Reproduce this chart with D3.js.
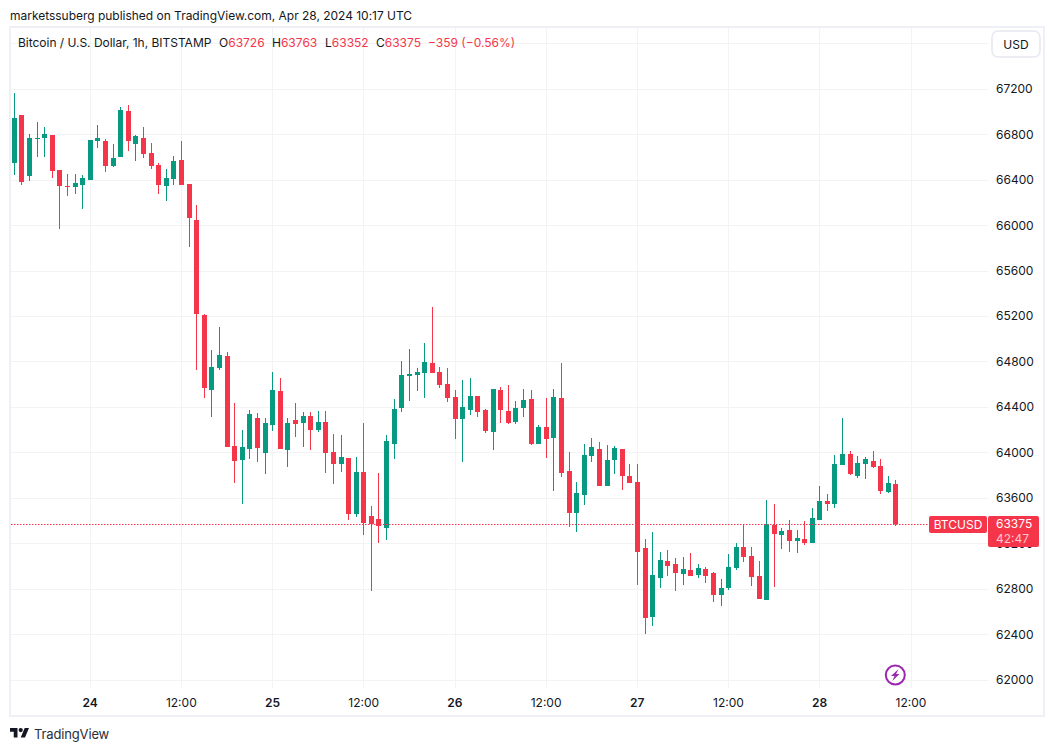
<!DOCTYPE html>
<html>
<head>
<meta charset="utf-8">
<script src="https://cdn.jsdelivr.net/npm/d3@7/dist/d3.min.js"></script>
<style>
html,body{margin:0;padding:0;background:#fff;}
svg{display:block;}
text{font-family:Inter,"Liberation Sans",sans-serif;}
</style>
</head>
<body>
<svg id="c" width="1054" height="751"></svg>
<script>
const firstHour = -10; // hours relative to Apr 24 00:00 UTC
const opens = [66552,66974,66437,66763,66772,66798,66490,66349,66340,66358,
66402,66745,66745,66525,66604,67009,66719,66772,66640,66534,
66349,66411,66578,66367,66050,65214,64554,64748,64853,64061,
63938,64035,64308,63999,64246,64545,64026,64290,64264,64325,
64202,64273,64009,63903,63956,63463,63833,63445,63419,63340,
64079,64396,64677,64686,64704,64792,64712,64607,64493,64299,
64378,64501,64378,64185,64554,64369,64273,64396,64475,64079,
64229,64132,64484,63841,63472,63630,63973,64035,63709,63938,
64035,63797,63745,63164,62557,62900,63049,63023,62935,62970,
62926,62979,62944,62750,62812,62988,63173,63093,62917,62706,
63366,63278,63322,63225,63243,63208,63410,63577,63551,63894,
63991,63797,63903,63929,63885,63656,63726];
const highs = [67168,66974,66807,66912,66868,66798,66490,66455,66455,66446,
66754,66886,66763,66719,67044,67062,66798,66868,66728,66552,
66499,66613,66745,66367,66182,65223,64906,65109,64889,64440,
64202,64378,64352,64308,64713,64660,64308,64440,64361,64361,
64369,64369,64167,64158,63956,63965,64264,63533,63824,64158,
64475,64809,64915,64748,64968,65284,64756,64748,64554,64642,
64660,64501,64387,64563,64581,64598,64457,64563,64554,64246,
64484,64563,64792,64009,63745,64079,64132,64096,64070,64061,
64035,63903,63903,63243,63305,63129,63146,63076,63085,63120,
63023,62997,62953,62891,63111,63208,63366,63173,63049,63586,
63551,63340,63410,63322,63401,63516,63709,63639,63982,64308,
64017,63973,63964,64017,63947,63797,63763];
const lows = [66446,66358,66393,66604,66604,66420,65971,66261,66279,66147,
66402,66684,66472,66516,66604,66657,66569,66596,66499,66279,
66217,66358,66358,65812,64730,64484,64317,64730,64053,63736,
63551,63947,63921,63815,64193,64035,63877,64141,64053,64026,
64185,63824,63727,63833,63410,63437,63278,62786,63208,63234,
63947,64361,64457,64545,64484,64704,64572,64449,64123,63921,
64334,64317,64176,64026,64264,64255,64255,64317,64070,64079,
63956,63665,63789,63349,63305,63542,63920,63709,63709,63815,
63674,63736,62838,62407,62477,62812,62917,62785,62838,62917,
62900,62856,62689,62653,62794,62970,63041,62829,62715,62706,
62821,63155,63129,63120,63190,63208,63410,63489,63516,63894,
63806,63780,63771,63868,63639,63648,63352];
const closes = [66948,66384,66772,66772,66807,66481,66349,66340,66376,66420,
66754,66772,66525,66596,67018,66745,66789,66631,66525,66358,
66420,66569,66358,66068,65223,64572,64757,64862,64053,63930,
64053,64343,64044,64264,64554,64035,64264,64255,64325,64202,
64273,63999,63903,63965,63463,63833,63384,63375,63357,64105,
64387,64686,64695,64712,64800,64704,64598,64484,64299,64405,
64501,64361,64193,64563,64378,64264,64396,64466,64079,64229,
64123,64493,63824,63472,63648,63982,64052,63709,63938,64044,
63797,63736,63129,62548,62926,63058,63005,62944,62979,62917,
62988,62917,62750,62812,62997,63173,63085,62909,62715,63375,
63287,63313,63225,63252,63208,63428,63577,63551,63903,63991,
63815,63912,63947,63876,63665,63734,63375];
const priceTicks = [67200,66800,66400,66000,65600,65200,64800,64400,64000,63600,63200,62800,62400,62000];
const extraGridPrice = [67600];
const timeTicks = [0,12,24,36,48,60,72,84,96,108];
const timeLabels = ["24","12:00","25","12:00","26","12:00","27","12:00","28","12:00"];
const publishedText = "marketssuberg published on TradingView.com, Apr 28, 2024 10:17 UTC";
const titleText = "Bitcoin / U.S. Dollar, 1h, BITSTAMP";
const symbolText = "BTCUSD";
const countdownText = "42:47";
const currencyText = "USD";
const brandText = "TradingView";

const UP = "#089a80", DOWN = "#f5364a", INK = "#131722", GRID = "#f3f3f5", FRAME = "#eff0f6";

const svg = d3.select("#c");
const x = d3.scaleLinear().domain([0,12]).range([90.2,181.4]);
const y = d3.scaleLinear().domain([62000,67200]).range([680,89.3]);
const px = v => Math.floor(x(v));
const py = v => Math.round(y(v));

svg.append("rect").attr("width",1054).attr("height",751).attr("fill","#fff");

// grid
const grid = svg.append("g").attr("shape-rendering","crispEdges");
grid.selectAll("line.h").data(priceTicks.concat(extraGridPrice)).join("line")
  .attr("x1",11).attr("x2",988)
  .attr("y1",d=>Math.floor(y(d))+.5).attr("y2",d=>Math.floor(y(d))+.5)
  .attr("stroke",GRID);
grid.selectAll("line.v").data(timeTicks).join("line")
  .attr("x1",d=>px(d)+.5).attr("x2",d=>px(d)+.5)
  .attr("y1",28).attr("y2",688)
  .attr("stroke",GRID);

// candles
const idx = d3.range(opens.length);
const hourOf = i => firstHour + i;
const col = i => closes[i] >= opens[i] ? UP : DOWN;
const candles = svg.append("g").attr("shape-rendering","crispEdges");
candles.selectAll("rect.w").data(idx).join("rect").attr("class","w")
  .attr("x",i=>px(hourOf(i))).attr("width",1)
  .attr("y",i=>py(highs[i]))
  .attr("height",i=>Math.max(1,py(lows[i])-py(highs[i])))
  .attr("fill",col);
candles.selectAll("rect.b").data(idx).join("rect").attr("class","b")
  .attr("x",i=>px(hourOf(i))-2).attr("width",5)
  .attr("y",i=>py(Math.max(opens[i],closes[i])))
  .attr("height",i=>Math.max(1,py(Math.min(opens[i],closes[i]))-py(Math.max(opens[i],closes[i]))))
  .attr("fill",col);

// last price line
const last = opens.length-1;
const lastY = Math.round(y(closes[last]))+.5;
svg.append("line").attr("x1",11).attr("x2",929).attr("y1",lastY).attr("y2",lastY)
  .attr("stroke",DOWN).attr("stroke-width",1.2).attr("stroke-dasharray","1.5 1.5");

// axes
const yAxis = d3.axisRight(y).tickValues(priceTicks).tickSize(0).tickPadding(0).tickFormat(d3.format("d"));
const yg = svg.append("g").attr("transform","translate(996,-0.7)").call(yAxis);
yg.select(".domain").remove();
yg.selectAll("text").attr("font-size",12).attr("fill",INK).attr("font-family","Inter").attr("x",0).attr("dy","0.35em");

const xAxis = d3.axisBottom(x).tickValues(timeTicks).tickSize(0).tickPadding(0).tickFormat((d,i)=>timeLabels[i]);
const xg = svg.append("g").attr("transform","translate(-0.6,697)").call(xAxis);
xg.select(".domain").remove();
xg.selectAll("text").attr("font-size",12).attr("fill",INK).attr("font-family","Inter")
  .attr("y",0).attr("dy","0.85em")
  .attr("font-weight",(d,i)=>timeLabels[i].includes(":")?400:600);

// frame
svg.append("rect").attr("x",10).attr("y",27).attr("width",1034).attr("height",689)
  .attr("fill","none").attr("stroke",FRAME).attr("stroke-width",2).attr("shape-rendering","crispEdges");

// header texts
svg.append("text").attr("x",10).attr("y",20).attr("font-size",12).attr("letter-spacing",-0.02).attr("fill",INK).text(publishedText);
svg.append("text").attr("x",18).attr("y",47).attr("font-size",12).attr("letter-spacing",-0.02).attr("fill",INK).text(titleText);
const chg = closes[last]-closes[last-1];
const minus = "\u2212";
const hdr = [["O",219,opens[last]],["H",272,highs[last]],["L",325,lows[last]],["C",376,closes[last]]];
hdr.forEach(([k,xp,v])=>{
  const t = svg.append("text").attr("x",xp).attr("y",47).attr("font-size",12);
  t.append("tspan").attr("fill",INK).text(k);
  t.append("tspan").attr("fill",DOWN).text(v);
});
svg.append("text").attr("x",428).attr("y",47).attr("font-size",12).attr("fill",DOWN)
  .text(minus+Math.abs(chg)+" ("+minus+(Math.abs(chg)/closes[last-1]*100).toFixed(2)+"%)");

// currency button
svg.append("rect").attr("x",992).attr("y",31).attr("width",48).attr("height",26).attr("rx",6)
  .attr("fill","#fff").attr("stroke","#e6e8ef").attr("stroke-width",1.5);
svg.append("text").attr("x",1016).attr("y",48.5).attr("text-anchor","middle").attr("font-size",12).attr("fill",INK).text(currencyText);

// last price labels
svg.append("rect").attr("x",929).attr("y",516).attr("width",58).attr("height",17).attr("rx",2).attr("fill",DOWN);
svg.append("text").attr("x",958).attr("y",529).attr("text-anchor","middle").attr("font-size",12).attr("fill","#fff").text(symbolText);
svg.append("rect").attr("x",988).attr("y",516).attr("width",51).attr("height",31).attr("rx",2).attr("fill",DOWN);
svg.append("text").attr("x",996).attr("y",528).attr("font-size",12).attr("fill","#fff").text(closes[last]);
svg.append("text").attr("x",996).attr("y",543).attr("font-size",12).attr("fill","#fff").attr("fill-opacity",.72).text(countdownText);

// lightning badge
const badge = svg.append("g").attr("transform","translate(895.3,675)");
badge.append("circle").attr("r",9.5).attr("fill","#fff").attr("stroke","#9c27b0").attr("stroke-width",2);
badge.append("path").attr("d","M3.2,-6L-4.2,1L-0.8,1L-3,6L4.2,-1L0.8,-1Z").attr("fill","#9c27b0");

// brand
const logo = svg.append("g").attr("transform","translate(10,725.8) scale(0.535)");
logo.append("path").attr("d","M14 22H7V11H0V4h14v18zM28 22h-8l7.5-18h8L28 22z").attr("fill",INK);
logo.append("circle").attr("cx",20).attr("cy",8).attr("r",4).attr("fill",INK);
svg.append("text").attr("x",34).attr("y",739).attr("font-size",13).attr("letter-spacing",-0.15).attr("fill","#2a2e39").text(brandText);
</script>
</body>
</html>
